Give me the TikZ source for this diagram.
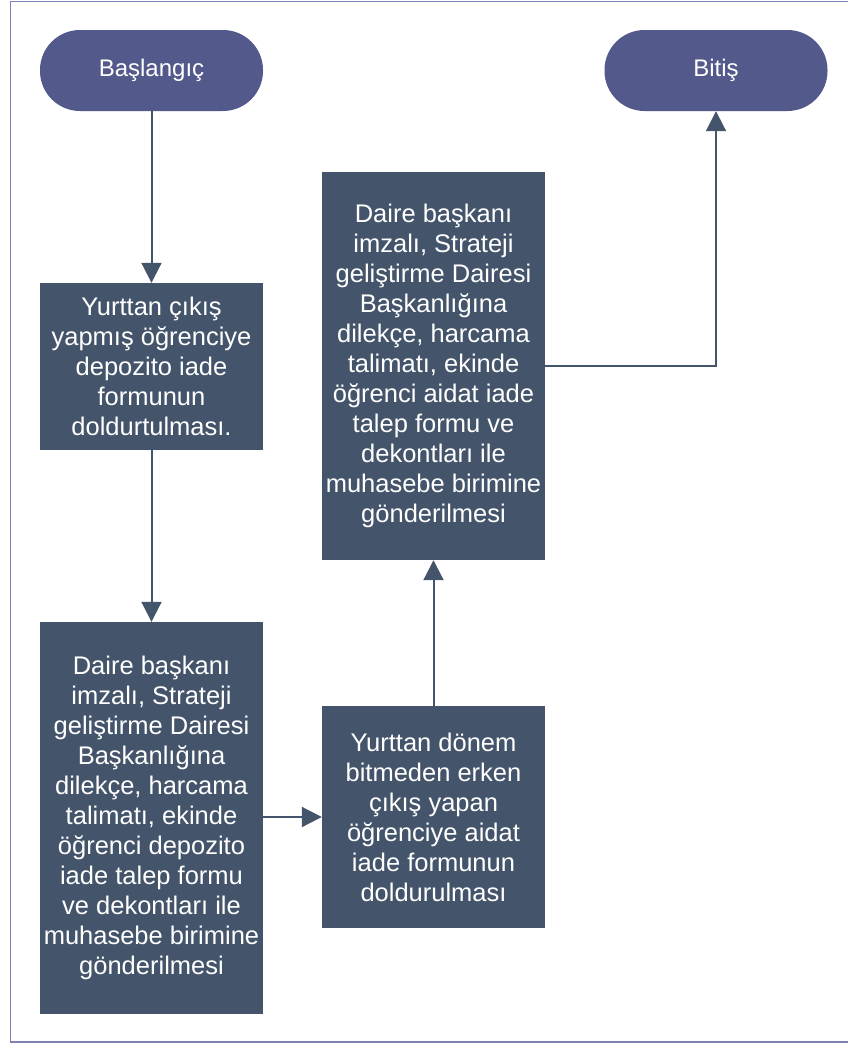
\documentclass[tikz,border=0pt]{standalone}
\usepackage{fontspec}
\setmainfont{Liberation Sans}
\usetikzlibrary{arrows.meta}
\definecolor{termfill}{RGB}{83,89,139}
\definecolor{boxfill}{RGB}{68,84,106}
\definecolor{linecol}{RGB}{68,84,106}
\definecolor{framecol}{RGB}{125,129,180}
\tikzset{
  term/.style={rectangle, rounded corners=40pt, fill=termfill, text=white,
    minimum width=223pt, minimum height=81pt, inner sep=0pt,
    font=\fontsize{24}{29}\selectfont},
  procbox/.style={rectangle, fill=boxfill, text=white, align=center,
    minimum width=223pt, inner sep=0pt,
    font=\fontsize{25.5}{30}\selectfont},
  conn/.style={draw=linecol, line width=2pt,
    -{Triangle[width=20pt,length=20pt]}}
}
\begin{document}
\begin{tikzpicture}[x=1pt,y=-1pt]
\useasboundingbox (0,0) rectangle (848,1044);
\draw[framecol, line width=1.6pt] (870,1.5) -- (10.5,1.5) -- (10.5,1042) -- (870,1042);
\node[term] (start) at (151.5,70.5) {Başlangıç};
\node[term] (end) at (716,70.5) {Bitiş};
\node[procbox, minimum height=167pt] (b1) at (151.5,366.5) {Yurttan çıkış\\yapmış öğrenciye\\depozito iade\\formunun\\doldurtulması.};
\node[procbox, minimum height=392pt] (b2) at (151.5,818) {Daire başkanı\\imzalı, Strateji\\geliştirme Dairesi\\Başkanlığına\\dilekçe, harcama\\talimatı, ekinde\\öğrenci depozito\\iade talep formu\\ve dekontları ile\\muhasebe birimine\\gönderilmesi};
\node[procbox, minimum height=222pt] (b3) at (433.5,817) {Yurttan dönem\\bitmeden erken\\çıkış yapan\\öğrenciye aidat\\iade formunun\\doldurulması};
\node[procbox, minimum height=388pt] (b4) at (433.5,366) {Daire başkanı\\imzalı, Strateji\\geliştirme Dairesi\\Başkanlığına\\dilekçe, harcama\\talimatı, ekinde\\öğrenci aidat iade\\talep formu ve\\dekontları ile\\muhasebe birimine\\gönderilmesi};
\draw[conn] (start) -- (b1);
\draw[conn] (b1) -- (b2);
\draw[conn] (b2.east |- b3.west) -- (b3.west);
\draw[conn] (b3) -- (b4);
\draw[conn] (b4.east) -| (end.south);
\end{tikzpicture}
\end{document}
